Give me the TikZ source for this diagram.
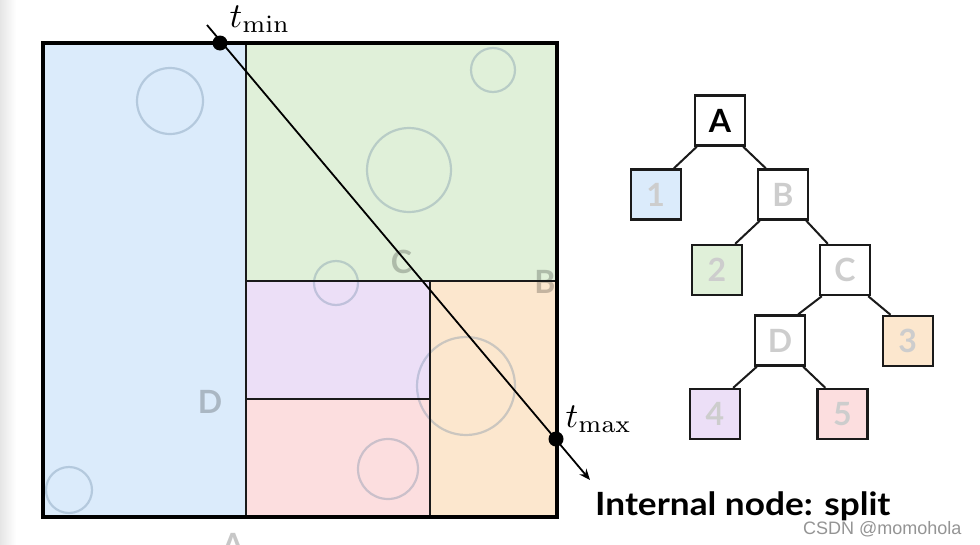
\documentclass[tikz,border=0pt]{standalone}
\usepackage[no-math]{fontspec}
\setmainfont{Lato}
\newfontfamily\wmfont{Liberation Sans}
\newfontfamily\capfont[FakeStretch=1.1]{Lato}
\usetikzlibrary{calc,arrows.meta}
\definecolor{blueF}{HTML}{DBEBFB}
\definecolor{greenF}{HTML}{E0F0D9}
\definecolor{purpleF}{HTML}{ECDFF7}
\definecolor{pinkF}{HTML}{FCDEDF}
\definecolor{orangeF}{HTML}{FCE7CE}
\definecolor{circC}{RGB}{100,130,160}
\definecolor{treeGray}{HTML}{CDCDCD}
\definecolor{edgeC}{HTML}{1A1A1A}
\tikzset{
  bigfont/.style={font=\fontsize{32}{36}\selectfont\bfseries},
  reglabel/.style={bigfont, text=black, text opacity=0.22, inner sep=0},
  blob/.style={draw=circC, draw opacity=0.32, line width=2.2},
  divline/.style={line width=2, draw=edgeC},
  rayline/.style={line width=1.8, draw=black},
  dotnode/.style={circle, fill=black, inner sep=0, minimum size=15},
  tbox/.style={draw=edgeC, line width=2.4, minimum size=50, inner sep=0, bigfont, text=treeGray},
  tedge/.style={line width=2, draw=edgeC},
  mathlabel/.style={anchor=base west, inner sep=0, font=\fontsize{10}{12}\selectfont, scale=3.5},
}
\begin{document}
\begin{tikzpicture}[x=1pt,y=-1pt]
\useasboundingbox (0,0) rectangle (980,544);
\clip (0,0) rectangle (980,544);
\fill[white] (0,0) rectangle (980,544);
\shade[left color=black!10, right color=white] (0,0) rectangle (16,544);

% regions
\fill[blueF] (43,43) rectangle (246,517);
\fill[greenF] (246,43) rectangle (557,281);
\fill[purpleF] (246,281) rectangle (430,399);
\fill[pinkF] (246,399) rectangle (430,517);
\fill[orangeF] (430,281) rectangle (557,517);

% primitives
\draw[blob] (170,101) circle (33);
\draw[blob] (409,170) circle (42);
\draw[blob] (493,70) circle (22);
\draw[blob] (336,283) circle (22);
\draw[blob] (466,386) circle (49);
\draw[blob] (388,469) circle (30);
\draw[blob] (69,490) circle (23);

% region labels
\node[reglabel] (lC) at (401.5,261.5) {C};
\node[reglabel] (lB) at (545,281.5) {B};
\node[reglabel] (lD) at (210,401.5) {D};
\node[reglabel] (lA) at (233,545) {A};

% split lines
\draw[divline] (246,43) -- (246,517);
\draw[divline] (246,281) -- (557,281);
\draw[divline] (430,281) -- (430,517);
\draw[divline] (246,399) -- (430,399);
\draw[line width=4.5] (43,43) rectangle (557,517);

% ray
\coordinate (rs) at (207,25);
\coordinate (re) at (590,480);
\draw[rayline, -{Stealth[length=11,width=9]}] (rs) -- (re);
\node[dotnode] (dmin) at (220,43) {};
\node[dotnode] (dmax) at (556,439) {};
\node[mathlabel] (tmin) at (229,27) {$t_{\min}$};
\node[mathlabel] (tmax) at (565,427) {$t_{\max}$};

% tree
\node[tbox, fill=white, text=black] (tA) at (720,120.5) {A};
\node[tbox, fill=blueF] (t1) at (655.7,194.5) {1};
\node[tbox, fill=white] (tB) at (783,194.5) {B};
\node[tbox, fill=greenF] (t2) at (717,270) {2};
\node[tbox, fill=white] (tC) at (845,270) {C};
\node[tbox, fill=white] (tD) at (780,340.5) {D};
\node[tbox, fill=orangeF] (t3) at (907.7,341) {3};
\node[tbox, fill=purpleF] (t4) at (715,414) {4};
\node[tbox, fill=pinkF] (t5) at (842.5,414) {5};

\foreach \p/\c in {tA/t1, tB/t2, tC/tD, tD/t4}
  \draw[tedge] ($(\p.south west)+(3,0)$) -- ($(\c.north east)+(-8,0)$);
\foreach \p/\c in {tA/tB, tB/tC, tC/t3, tD/t5}
  \draw[tedge] ($(\p.south east)+(-3,0)$) -- ($(\c.north west)+(9,0)$);

% caption
\node[anchor=base west, inner sep=0, font=\capfont\fontsize{32}{36}\selectfont\bfseries] (cap) at (595,515) {Internal node: split};
\node[anchor=base west, inner sep=0, font=\wmfont\fontsize{18}{20}\selectfont, text=black!42] (wm) at (803,534) {CSDN @momohola};
\end{tikzpicture}
\end{document}
